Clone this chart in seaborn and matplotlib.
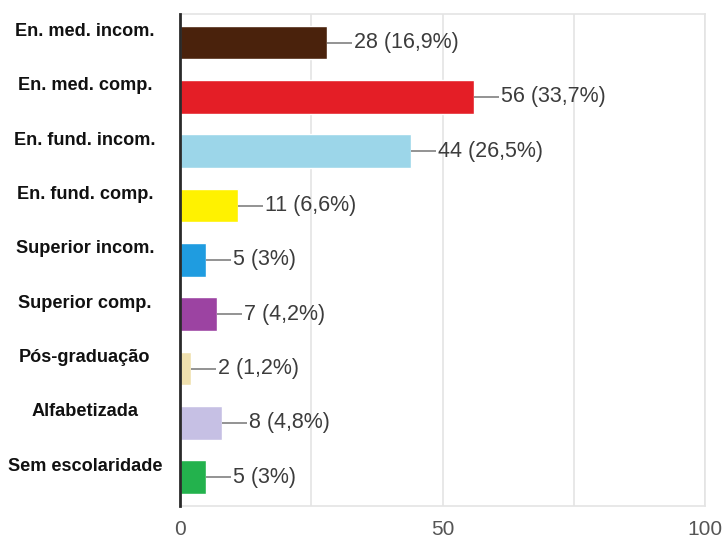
import matplotlib
matplotlib.use("Agg")
import matplotlib.pyplot as plt
import matplotlib.transforms as mtransforms
import seaborn as sns
import pandas as pd

# Escolaridade das respondentes
categories = [
    "En. med. incom.",
    "En. med. comp.",
    "En. fund. incom.",
    "En. fund. comp.",
    "Superior incom.",
    "Superior comp.",
    "Pós-graduação",
    "Alfabetizada",
    "Sem escolaridade",
]
counts = [28, 56, 44, 11, 5, 7, 2, 8, 5]
percent_labels = ["16,9%", "33,7%", "26,5%", "6,6%", "3%", "4,2%", "1,2%", "4,8%", "3%"]
bar_colors = [
    "#4a220c", "#e41e26", "#9cd6e9", "#fff200", "#1f9ce0",
    "#9c43a2", "#efe0ae", "#c6c0e4", "#23b24d",
]
x_ticks = [0, 50, 100]
grid_lines = [25, 50, 75, 100]

df = pd.DataFrame({"categoria": categories, "total": counts})

sns.set_theme(style="white")
plt.rcParams["font.family"] = ["Liberation Sans", "DejaVu Sans"]

fig = plt.figure(figsize=(7.28, 5.42), dpi=100)
W, H = 728, 542
ax = fig.add_axes([180 / W, 1 - 506 / H, (705 - 180) / W, (506 - 14) / H])

sns.barplot(
    data=df, x="total", y="categoria", hue="categoria",
    palette=bar_colors, order=categories, hue_order=categories,
    orient="h", width=0.62, legend=False, saturation=1, ax=ax,
)

ax.set_xlim(0, 100)
ax.set_ylim(8.53, -0.525)
for g in grid_lines:
    ax.axvline(g, color="#e4e4e4", lw=1.2, zorder=0)

for side in ("top", "right", "bottom"):
    ax.spines[side].set_color("#e4e4e4")
    ax.spines[side].set_linewidth(1.2)
ax.spines["left"].set_color("#2a2a2a")
ax.spines["left"].set_linewidth(2)
ax.spines["left"].set_zorder(5)

ax.set_xticks(x_ticks)
ax.set_xticklabels([str(t) for t in x_ticks], fontsize=15, color="#555555")
ax.tick_params(axis="x", length=0, pad=10)
ax.set_yticks(range(len(categories)))
ax.set_yticklabels([])
ax.tick_params(axis="y", length=0)
ax.set_xlabel("")
ax.set_ylabel("")

# Category names, centred in the left margin and lifted a little above each bar
name_tf = mtransforms.offset_copy(
    mtransforms.blended_transform_factory(fig.transFigure, ax.transData),
    fig=fig, x=0, y=11, units="dots",
)
for i, name in enumerate(categories):
    ax.text(85 / W, i, name, transform=name_tf, ha="center", va="center",
            fontsize=13.1, fontweight="bold", color="#111111", clip_on=False)

# Leader line and value label at the end of every bar
for i, (n, pct) in enumerate(zip(counts, percent_labels)):
    start = ax.transData.transform((n, i))
    end_disp = start + [25, 0]
    end = ax.transData.inverted().transform(end_disp)
    ax.plot([n, end[0]], [i, i], color="#8a8a8a", lw=1.3, solid_capstyle="butt")
    txt_tf = mtransforms.offset_copy(ax.transData, fig=fig, x=27, y=0, units="dots")
    ax.text(n, i, f"{n} ({pct})", transform=txt_tf, ha="left", va="center",
            fontsize=15.5, color="#3c3c3c")

fig.savefig("out.png", dpi=100)
